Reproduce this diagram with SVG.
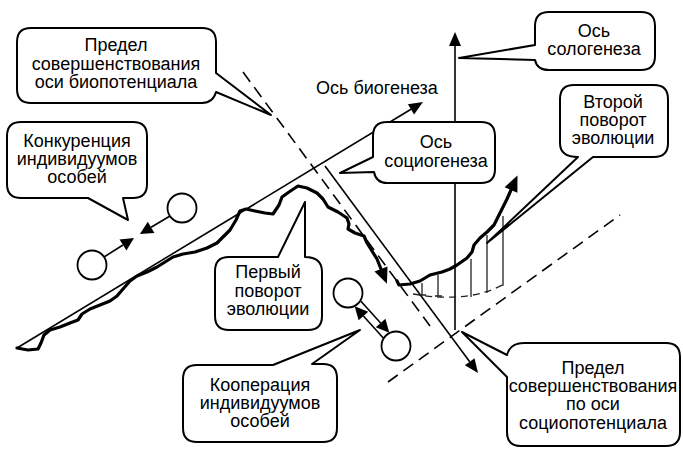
<svg xmlns="http://www.w3.org/2000/svg" width="683" height="450" viewBox="0 0 683 450">
<style>
text{font-family:"Liberation Sans",Arial,sans-serif;font-size:18px;fill:#000;text-anchor:middle}
.ax{fill:none;stroke:#000;stroke-width:1.6}
.dash{fill:none;stroke:#000;stroke-width:1.6;stroke-dasharray:12 7}
.thick{fill:none;stroke:#000;stroke-width:3.2;stroke-linejoin:round;stroke-linecap:round}
.hatch{fill:none;stroke:#222;stroke-width:1.3}
.call{fill:#fff;stroke:#000;stroke-width:2;stroke-linejoin:round}
.node{fill:#fff;stroke:#000;stroke-width:1.8}
</style>
<defs>
<marker id="ah" markerUnits="userSpaceOnUse" viewBox="0 -7 15 14" refX="0" refY="0" markerWidth="15" markerHeight="14" orient="auto" overflow="visible"><path d="M0,-6 L14,0 L0,6 Z" fill="#000"/></marker>
<marker id="ahb" markerUnits="userSpaceOnUse" viewBox="0 -8 17 16" refX="0" refY="0" markerWidth="17" markerHeight="16" orient="auto" overflow="visible"><path d="M0,-7 L16,0 L0,7 Z" fill="#000"/></marker>
<marker id="ahs" markerUnits="userSpaceOnUse" viewBox="0 -7 14 14" refX="0" refY="0" markerWidth="14" markerHeight="14" orient="auto" overflow="visible"><path d="M0,-6.5 L13,0 L0,6.5 Z" fill="#000"/></marker>
</defs>
<rect width="683" height="450" fill="#fff"/>
<g id="connectors">
<path class="ax" d="M17,348 L411,109.3" marker-end="url(#ah)"/>
<path class="ax" d="M455,330 L455,46" marker-end="url(#ah)"/>
<path class="ax" d="M325,166 L469.7,361.7" marker-end="url(#ah)"/>
<path class="dash" d="M243,72 L430,326"/>
<path class="dash" d="M388,382 L620,215"/>
<path class="hatch" d="M422,283 V295 M438,275 V296 M471,259 V297 M487,235 V293 M503,216 V286 M419,295 H426 M435,296 H442"/>
<path class="hatch" d="M413,294 Q470,304 506,283" stroke-dasharray="7 5"/>
<path class="thick" d="M17,348 L28,350 L38,349 L41,343 L44,335 L50,330 L60,327 L70,323 L78,320 L82,314 L90,309 L100,305 L110,301 L117,296 L123,289 L130,281 L137,276 L147,272 L157,267 L165,262 L173,257 L183,254 L195,252 L207,248 L217,243 L223,237 L230,230 L236,220 L240,211 L246,209 L255,211 L265,213 L273,214 L279,205 L282,197 L289,192 L298,186 L307,188 L317,193 L323,199 L328,207 L338,212 L347,218 L349,224 L348,229 L355,233 L364,236 L367,243 L372,251 L377,259 L381,269" marker-end="url(#ahb)"/>
<path class="thick" d="M397,281 L399,285 L410,284 L420,281 L430,275 L442,272 L450,269 L457,265 L467,258 L472,252 L474,245 L480,238 L487,232 L494,225 L498,217 L503,207 L507,199 L511,190" marker-end="url(#ahb)"/>
<path class="ax" d="M104,257 L123,245" marker-end="url(#ahs)"/>
<path class="ax" d="M170,216 L151.1,227.3" marker-end="url(#ahs)"/>
<path class="ax" d="M360.7,301 L380.6,323" marker-end="url(#ahs)"/>
<path class="ax" d="M383.3,338 L363.4,316" marker-end="url(#ahs)"/>
</g>
<g id="circle-c1"><circle class="node" cx="92" cy="265" r="14.5"/></g>
<g id="circle-c2"><circle class="node" cx="182" cy="208" r="14.5"/></g>
<g id="circle-k1"><circle class="node" cx="348" cy="293" r="14.5"/></g>
<g id="circle-k2"><circle class="node" cx="396" cy="346" r="14.5"/></g>
<g id="label-biogenesis"><text x="377" y="94">Ось биогенеза</text></g>
<g id="callout-bio-limit">
<path class="call" d="M31,28 H202 Q216,28 216,42 V73 L271,115 L216,92 Q213,103 202,103 H31 Q17,103 17,89 V42 Q17,28 31,28 Z"/>
<text x="116" y="51">Предел</text><text x="116" y="69.5">совершенствования</text><text x="116" y="88">оси биопотенциала</text>
</g>
<g id="callout-competition">
<path class="call" d="M21,122 H133 Q147,122 147,136 V184 Q147,198 133,198 H123 L128,220 L88,198 H21 Q7,198 7,184 V136 Q7,122 21,122 Z"/>
<text x="77" y="147">Конкуренция</text><text x="77" y="165">индивидуумов</text><text x="77" y="183">особей</text>
</g>
<g id="callout-sologenesis">
<path class="call" d="M549,12 H641 Q655,12 655,26 V56 Q655,70 641,70 H549 Q537,70 535,60 L459,58 L535,45 V26 Q535,12 549,12 Z"/>
<text x="594" y="37">Ось</text><text x="594" y="55">сологенеза</text>
</g>
<g id="callout-sociogenesis">
<path class="call" d="M387,122 H481 Q495,122 495,136 V169 Q495,183 481,183 H387 Q376,183 374,172 L340,173 L373,157 V136 Q373,122 387,122 Z"/>
<text x="436" y="148">Ось</text><text x="436" y="167">социогенеза</text>
</g>
<g id="callout-second-turn">
<path class="call" d="M574,85 H654 Q668,85 668,99 V143 Q668,157 654,157 H593 L487,243 L578,157 Q560,157 560,143 V99 Q560,85 574,85 Z"/>
<text x="613" y="108">Второй</text><text x="613" y="126">поворот</text><text x="613" y="144">эволюции</text>
</g>
<g id="callout-first-turn">
<path class="call" d="M229,257 H278 L305,202 V257 Q322,257 322,272 V316 Q322,330 308,330 H229 Q215,330 215,316 V271 Q215,257 229,257 Z"/>
<text x="268" y="278">Первый</text><text x="268" y="297">поворот</text><text x="268" y="315">эволюции</text>
</g>
<g id="callout-cooperation">
<path class="call" d="M197,365 H273 L360,330 L312,364 H323 Q337,364 337,378 V428 Q337,442 323,442 H197 Q183,442 183,428 V379 Q183,365 197,365 Z"/>
<text x="260" y="391">Кооперация</text><text x="260" y="409">индивидуумов</text><text x="260" y="427">особей</text>
</g>
<g id="callout-socio-limit">
<path class="call" d="M507,355 Q510,343 524,343 H666 Q680,343 680,357 V432 Q680,446 666,446 H521 Q507,446 507,432 V377 L462,332 Z"/>
<text x="593" y="374">Предел</text><text x="593" y="392">совершенствования</text><text x="593" y="410">по оси</text><text x="593" y="429">социопотенциала</text>
</g>
</svg>
